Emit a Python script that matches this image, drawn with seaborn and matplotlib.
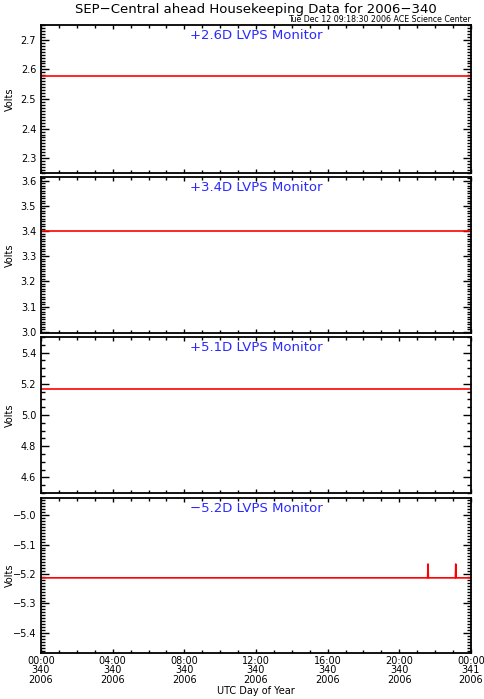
import matplotlib
matplotlib.use("Agg")
import matplotlib.pyplot as plt
import matplotlib.ticker as mticker
import seaborn as sns
import pandas as pd

sns.set_style("ticks")
plt.rcParams['font.family'] = ['DejaVu Sans']
plt.rcParams['text.color'] = 'black'
plt.rcParams['axes.labelcolor'] = 'black'
plt.rcParams['xtick.color'] = 'black'
plt.rcParams['ytick.color'] = 'black'

# hours since 00:00 of day 340
hours_p1 = [0.0, 24.0]
volts_p1 = [2.578, 2.578]
hours_p2 = [0.0, 24.0]
volts_p2 = [3.400, 3.400]
hours_p3 = [0.0, 24.0]
volts_p3 = [5.169, 5.169]
hours_p4 = [0.0, 21.58, 21.60, 21.62, 23.13, 23.15, 23.17, 24.0]
volts_p4 = [-5.213, -5.213, -5.166, -5.213, -5.213, -5.166, -5.213, -5.213]

titles = ["+2.6D LVPS Monitor", "+3.4D LVPS Monitor",
          "+5.1D LVPS Monitor", "\u22125.2D LVPS Monitor"]
ylims = [(2.25, 2.75), (2.995, 3.615), (4.5, 5.5), (-5.468, -4.942)]
ymajor = [0.1, 0.1, 0.2, 0.1]
yminor = [0.01, 0.01, 0.05, 0.01]
xtick_hours = [0, 4, 8, 12, 16, 20, 24]
xtick_labels = ["00:00\n340\n2006", "04:00\n340\n2006", "08:00\n340\n2006",
                "12:00\n340\n2006", "16:00\n340\n2006", "20:00\n340\n2006",
                "00:00\n341\n2006"]

W, H = 484, 699
fig = plt.figure(figsize=(W / 100, H / 100), dpi=100)
fig.patch.set_facecolor("white")

# panel pixel boxes (top, bottom)
boxes = [(25, 173), (177, 333), (337, 493), (498, 653)]
left, right = 41, 471

series = [(hours_p1, volts_p1), (hours_p2, volts_p2),
          (hours_p3, volts_p3), (hours_p4, volts_p4)]


def ytick_fmt(v, pos):
    s = "%.1f" % v
    return s.replace("-", "\u2212")


for i, ((top, bot), (hx, vy)) in enumerate(zip(boxes, series)):
    ax = fig.add_axes([left / W, 1 - bot / H, (right - left) / W, (bot - top) / H])
    df = pd.DataFrame({"hour": hx, "volts": vy})
    sns.lineplot(data=df, x="hour", y="volts", ax=ax, color="red",
                 linewidth=1.2, estimator=None, sort=False)
    ax.set_xlim(0, 24)
    ax.set_ylim(*ylims[i])
    ax.yaxis.set_major_locator(mticker.MultipleLocator(ymajor[i]))
    ax.yaxis.set_minor_locator(mticker.MultipleLocator(yminor[i]))
    ax.yaxis.set_major_formatter(mticker.FuncFormatter(ytick_fmt))
    ax.set_xticks(xtick_hours)
    ax.xaxis.set_minor_locator(mticker.MultipleLocator(1))
    ax.tick_params(which="both", direction="in", top=True, right=True,
                   colors="black", labelsize=7, width=1.0)
    ax.tick_params(which="major", length=6)
    ax.tick_params(which="minor", length=3)
    ax.tick_params(axis="x", which="major", length=3, pad=2)
    ax.tick_params(axis="x", which="minor", length=2)
    for sp in ax.spines.values():
        sp.set_linewidth(1.3)
        sp.set_color("black")
    ax.set_ylabel("Volts", fontsize=7)
    ax.yaxis.set_label_coords((15 - left) / (right - left), 0.5)
    ax.set_xlabel("")
    ax.text(0.5, 0.975, titles[i], transform=ax.transAxes, ha="center",
            va="top", color="#2a2aff", fontsize=9.5)
    if i < 3:
        ax.set_xticklabels([])
    else:
        ax.set_xticklabels(xtick_labels, fontsize=7, linespacing=0.95)

fig.text(256 / W, 1 - 691 / H, "UTC Day of Year", ha="center", va="center", fontsize=7)
fig.text(256 / W, 1 - 9 / H, "SEP\u2212Central ahead Housekeeping Data for 2006\u2212340",
         ha="center", va="center", fontsize=9.5)
fig.text(right / W, 1 - 19 / H, "Tue Dec 12 09:18:30 2006 ACE Science Center",
         ha="right", va="center", fontsize=5.7)

fig.savefig("out.png", dpi=100, facecolor="white")
